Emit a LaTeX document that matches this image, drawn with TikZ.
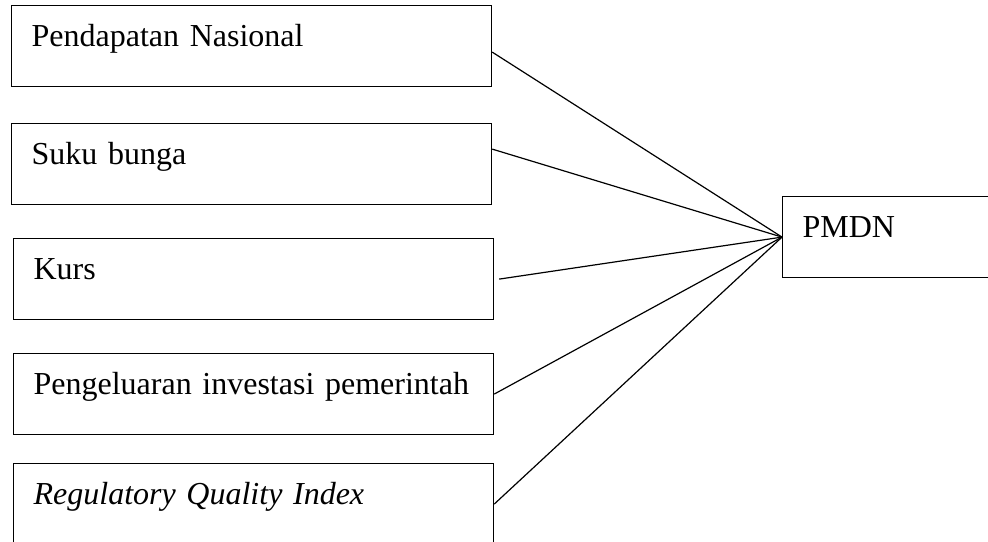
\documentclass[tikz,border=0pt]{standalone}
\usepackage{fontspec}
\setmainfont{Liberation Serif}
\usepackage{tikz}
\usetikzlibrary{positioning}
\tikzset{kotak/.style = {draw, rectangle, anchor=north west, line width=0.6pt,
                         inner xsep=10pt, inner ysep=10pt,
                         text width=220pt, align=left,
                         text height=10.5pt, text depth=10pt,
                         font=\fontsize{16}{19}\selectfont}}
\tikzset{garis/.style = {line width=0.6pt}}

\begin{document}
\begin{tikzpicture}[x=0.5pt, y=-0.5pt]
    \path[use as bounding box, clip] (0,0) rectangle (988,541);
    % variabel bebas
    \node[kotak] (b1) at (11,5) {Pendapatan Nasional};
    \node[kotak] (b2) at (11,123) {Suku bunga};
    \node[kotak] (b3) at (13,238) {Kurs};
    \node[kotak] (b4) at (13,353) {Pengeluaran investasi pemerintah};
    \node[kotak] (b5) at (13,463) {\textit{Regulatory Quality Index}};
    % variabel terikat
    \node[kotak] (pmdn) at (782,196) {PMDN};
    \draw[garis] ([yshift=-3pt]b1.east) -- (pmdn.west);
    \draw[garis] ([yshift=7.5pt]b2.east) -- (pmdn.west);
    \draw[garis] ([xshift=2.5pt]b3.east) -- (pmdn.west);
    \foreach \b in {b4,b5}
      \draw[garis] (\b.east) -- (pmdn.west);
\end{tikzpicture}
\end{document}
